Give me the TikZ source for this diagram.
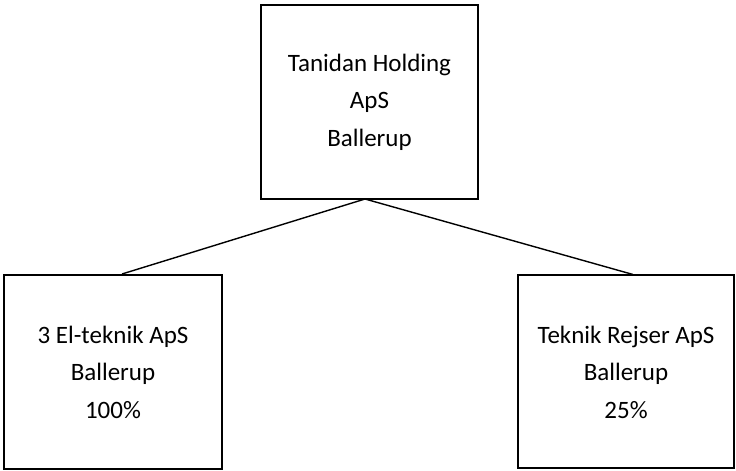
\documentclass[tikz,border=0pt]{standalone}
\usepackage{fontspec}
\setmainfont{Carlito}
\usetikzlibrary{calc}
\begin{document}
\begin{tikzpicture}[x=1pt,y=1pt,
  orgbox/.style={draw=black, line width=2pt, fill=white, align=center,
    inner sep=0pt, font=\fontsize{25}{37.5}\selectfont},
  link/.style={draw=black, line width=1.4pt}]
\useasboundingbox (0,0) rectangle (736,471);
\node[orgbox, minimum width=217pt, minimum height=194pt] (top) at (369.5,369)
  {Tanidan Holding\\ApS\\Ballerup};
\node[orgbox, minimum width=218pt, minimum height=194pt] (left) at (113,99)
  {3 El-teknik ApS\\Ballerup\\100\%};
\node[orgbox, minimum width=216pt, minimum height=193pt] (right) at (626,99)
  {Teknik Rejser ApS\\Ballerup\\25\%};
\coordinate (j) at ($(top.south)+(-4.5,1)$);
\draw[link] (j) -- ($(left.north)+(9,0)$);
\draw[link] (j) -- ($(right.north)+(7,0)$);
\end{tikzpicture}
\end{document}
